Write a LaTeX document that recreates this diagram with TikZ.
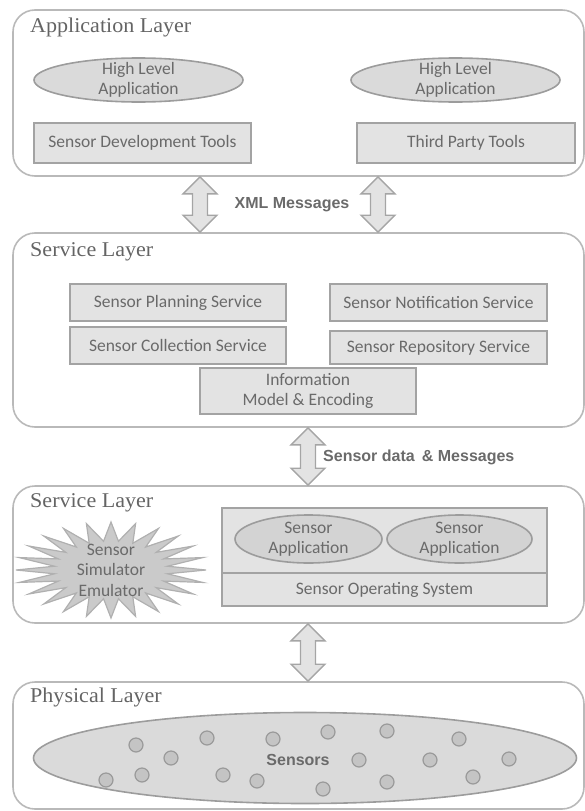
\documentclass[tikz,border=0pt]{standalone}
\usepackage{fontspec}
\setmainfont{Carlito}
\newfontfamily\titlefont[FakeStretch=1.05]{Liberation Serif}
\newfontfamily\labelfont{Liberation Sans}
\usetikzlibrary{shapes.geometric,calc}
\definecolor{layerline}{HTML}{B9B9B9}
\definecolor{boxline}{HTML}{A3A3A3}
\definecolor{boxfill}{HTML}{E3E3E3}
\definecolor{ellline}{HTML}{9C9C9C}
\definecolor{ellfill}{HTML}{DADADA}
\definecolor{saefill}{HTML}{D3D3D3}
\definecolor{txt}{HTML}{6A6A6A}
\definecolor{titlecol}{HTML}{646464}
\definecolor{lblcol}{HTML}{6A6A6A}
\definecolor{arrline}{HTML}{A5A5A5}
\definecolor{arrfill}{HTML}{E3E3E3}
\definecolor{dotline}{HTML}{9A9A9A}
\definecolor{dotfill}{HTML}{C4C4C4}
\definecolor{burstfill}{HTML}{CACACA}
\definecolor{burstline}{HTML}{B0B0B0}
\newcommand\boxfs{\fontsize{17.5}{20.5}\selectfont}
% double block arrow between two named coordinates (top, bottom)
\newcommand\blockarrow[2]{%
  \draw[dblarrow] (#1) -- ($(#1)+(17,17)$) -- ($(#1)+(7.5,17)$) -- ($(#2)+(7.5,-17)$)
    -- ($(#2)+(17,-17)$) -- (#2) -- ($(#2)+(-17,-17)$) -- ($(#2)+(-7.5,-17)$)
    -- ($(#1)+(-7.5,17)$) -- ($(#1)+(-17,17)$) -- cycle;}
\begin{document}
\begin{tikzpicture}[x=1pt,y=-1pt,
  layer/.style={draw=layerline, line width=1.6pt, rounded corners=22pt, minimum width=571pt, inner sep=0pt},
  box/.style={draw=boxline, fill=boxfill, line width=1.6pt, inner sep=0pt, font=\boxfs, text=txt, align=center},
  ell/.style={ellipse, draw=ellline, fill=ellfill, line width=1.6pt, inner sep=0pt},
  etext/.style={font=\boxfs, text=txt, align=center, inner sep=0pt},
  title/.style={anchor=base west, font=\titlefont\fontsize{21}{24}\selectfont, text=titlecol, inner sep=0pt},
  lbl/.style={font=\labelfont\bfseries\fontsize{16}{19}\selectfont, text=lblcol, inner sep=0pt},
  dblarrow/.style={draw=arrline, fill=arrfill, line width=1.4pt, line join=miter},
  dot/.style={circle, draw=dotline, fill=dotfill, line width=1.2pt, minimum size=14pt, inner sep=0pt},
  burst/.style={draw=burstline, fill=burstfill, line width=1.2pt, line join=miter}
]
\useasboundingbox (0,0) rectangle (585,811);

% layers
\node[layer, minimum height=166pt] (app) at (298.5,93) {};
\node[layer, minimum height=194pt] (svc) at (298.5,330) {};
\node[layer, minimum height=137pt] (svc2) at (298.5,554.5) {};
\node[layer, minimum height=127pt] (phys) at (298.5,745.5) {};

\node[title] (apptitle) at (30,32) {Application Layer};
\node[title] (svctitle) at (30,256) {Service Layer};
\node[title] (svc2title) at (30,507) {Service Layer};
\node[title] (phystitle) at (30,702) {Physical Layer};

% application layer
\node[ell, minimum width=209pt, minimum height=44pt] (hla1) at (138.5,80) {};
\node[etext] (hla1t) at (hla1) {High Level\\Application};
\node[ell, minimum width=209pt, minimum height=44pt] (hla2) at (455.5,80) {};
\node[etext] (hla2t) at (hla2) {High Level\\Application};
\node[box, minimum width=217pt, minimum height=40pt] (sdt) at (142.5,143) {Sensor Development Tools};
\node[box, minimum width=218pt, minimum height=40pt] (tpt) at (466,143) {Third Party Tools};

% service layer
\node[box, minimum width=216pt, minimum height=37pt] (sps) at (178,302.5) {Sensor Planning Service};
\node[box, minimum width=217pt, minimum height=37pt] (sns) at (438.5,302.5) {Sensor Notification Service};
\node[box, minimum width=216pt, minimum height=37pt] (scs) at (178,345.5) {Sensor Collection Service};
\node[box, minimum width=217pt, minimum height=33pt] (srs) at (438.5,347.5) {Sensor Repository Service};
\node[box, minimum width=216pt, minimum height=46pt] (info) at (308,391) {Information\\Model \& Encoding};

% second service layer
\draw[burst] (206,570) \foreach \k in {1,...,47}{ -- ({111+(76+19*cos(\k*180))*cos(\k*7.5)},{570+(38.5+9.5*cos(\k*180))*sin(\k*7.5)}) } -- cycle;
\node[etext] (simtxt) at (111,570) {Sensor\\Simulator\\Emulator};
\node[box, minimum width=325pt, minimum height=65pt] (appbox) at (384.5,540.5) {};
\node[box, minimum width=325pt, minimum height=33pt] (os) at (384.5,589.5) {Sensor Operating System};
\node[ell, fill=saefill, minimum width=147pt, minimum height=48pt] (sa1) at (308.5,539) {};
\node[etext] (sa1t) at (sa1) {Sensor\\Application};
\node[ell, fill=saefill, minimum width=145pt, minimum height=48pt] (sa2) at (459.5,539) {};
\node[etext] (sa2t) at (sa2) {Sensor\\Application};

% physical layer
\node[ell, minimum width=543pt, minimum height=91pt] (field) at (305,758) {};
\foreach \x/\y [count=\i] in {136/745,171/758,106/780,142/775,207/738,223/775,257/781,273/739,328/732,359/760,323/789,387/731,387/782,430/760,459/739,473/777,509/759}
  \node[dot] (d\i) at (\x,\y) {};
\node[lbl] (senslbl) at (298,760) {Sensors};

% connectors
\coordinate (xa) at (200,0);
\coordinate (xb) at (378,0);
\coordinate (xc) at (308,0);
\coordinate (a1t) at (app.south -| xa);
\coordinate (a1b) at (svc.north -| xa);
\coordinate (a2t) at (app.south -| xb);
\coordinate (a2b) at (svc.north -| xb);
\coordinate (a3t) at (svc.south -| xc);
\coordinate (a3b) at (svc2.north -| xc);
\coordinate (a4t) at (svc2.south -| xc);
\coordinate (a4b) at (phys.north -| xc);
\blockarrow{a1t}{a1b}
\blockarrow{a2t}{a2b}
\blockarrow{a3t}{a3b}
\blockarrow{a4t}{a4b}

\node[lbl] (xml) at (292,205) {XML Messages};
\node[lbl, anchor=west] (sdm) at (323,457) {Sensor data \,\& Messages};
\end{tikzpicture}
\end{document}
